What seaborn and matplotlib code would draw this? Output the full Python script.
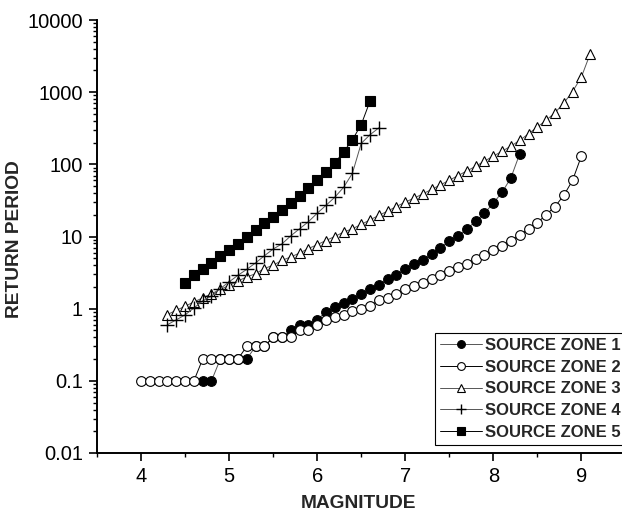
import numpy as np
import pandas as pd
import matplotlib
matplotlib.use("Agg")
import matplotlib.pyplot as plt
import seaborn as sns
from matplotlib.ticker import LogLocator, FixedLocator, NullFormatter

sns.set_style("ticks")
plt.rcParams['font.family'] = ['Liberation Sans', 'DejaVu Sans']

# ---- data (magnitude grid, step 0.1) ----
mag1 = np.round(np.arange(4.7, 8.31, 0.1), 1)
rp1 = [0.1, 0.1, 0.2, 0.2, 0.2, 0.2, 0.3, 0.3, 0.4, 0.4,
       0.5, 0.6, 0.6, 0.7, 0.9, 1.05, 1.2, 1.35, 1.6, 1.85,
       2.15, 2.6, 2.95, 3.6, 4.1, 4.8, 5.8, 7.0, 8.6, 10.2,
       12.8, 16.2, 21, 29, 41, 65, 140]

mag2 = np.round(np.arange(4.0, 9.01, 0.1), 1)
rp2 = [0.1, 0.1, 0.1, 0.1, 0.1, 0.1, 0.1,
       0.2, 0.2, 0.2, 0.2, 0.2,
       0.3, 0.3, 0.3,
       0.4, 0.4, 0.4,
       0.5, 0.5, 0.6, 0.7, 0.77, 0.83, 0.92, 1.0, 1.1, 1.3,
       1.42, 1.6, 1.85, 2.06, 2.27, 2.6, 2.9, 3.3, 3.8, 4.2,
       4.9, 5.6, 6.4, 7.5, 8.8, 10.4, 12.8, 15.5, 20, 26,
       37, 60, 130]

mag3 = np.round(np.arange(4.3, 9.11, 0.1), 1)
rp3 = [0.83, 0.95, 1.08, 1.24, 1.41, 1.61, 1.85, 2.1, 2.42, 2.75,
       3.05, 3.6, 4.0, 4.67, 5.2, 5.9, 6.8, 7.7, 8.8, 10,
       11.5, 12.8, 14.7, 17, 19.6, 22.5, 26, 30, 34, 39,
       45, 52, 60, 70, 81, 94, 111, 130, 152, 179,
       215, 265, 329, 408, 519, 705, 1020, 1620, 3400]

mag4 = np.round(np.arange(4.3, 6.71, 0.1), 1)
rp4 = [0.6, 0.7, 0.82, 1.02, 1.28, 1.5, 1.9, 2.35, 2.9, 3.5,
       4.3, 5.4, 6.7, 7.9, 10.2, 12.8, 16, 21, 27, 35,
       48, 75, 195, 257, 320]

mag5 = np.round(np.arange(4.5, 6.61, 0.1), 1)
rp5 = [2.3, 2.9, 3.6, 4.3, 5.3, 6.6, 7.9, 9.8, 12.2, 15.4,
       18.6, 23, 29, 36, 47, 60, 78, 105, 148, 219,
       355, 750]

labels = ["SOURCE ZONE 1", "SOURCE ZONE 2", "SOURCE ZONE 3",
          "SOURCE ZONE 4", "SOURCE ZONE 5"]
ytick_vals = [0.01, 0.1, 1, 10, 100, 1000, 10000]
ytick_labels = ["0.01", "0.1", "1", "10", "100", "1000", "10000"]
xtick_vals = [4, 5, 6, 7, 8, 9]

fig = plt.figure(figsize=(6.22, 5.14), dpi=100)
ax = fig.add_axes([97/622, 61/514, 524/622, 433/514])

styles = [
    dict(marker='o', mfc='black', mec='black', ms=7.0, mew=0.8, color='#555555'),
    dict(marker='o', mfc='white', mec='black', ms=7.0, mew=0.8, color='black'),
    dict(marker='^', mfc='white', mec='black', ms=7.8, mew=0.8, color='#555555'),
    dict(marker='+', mfc='black', mec='black', ms=9.5, mew=1.0, color='#555555'),
    dict(marker='s', mfc='black', mec='black', ms=6.5, mew=0.8, color='black'),
]
series = [(mag1, rp1), (mag2, rp2), (mag3, rp3), (mag4, rp4), (mag5, rp5)]

for (m, r), lab, st in zip(series, labels, styles):
    df = pd.DataFrame({"Magnitude": m, "Return period": r})
    sns.lineplot(data=df, x="Magnitude", y="Return period", ax=ax,
                 label=lab, linewidth=0.7, sort=False, **st)

ax.set_yscale('log')
ax.set_ylim(0.01, 10000)
ax.set_xlim(3.5, 9.45)

ax.xaxis.set_major_locator(FixedLocator(xtick_vals))
ax.xaxis.set_minor_locator(FixedLocator([3.5, 4.5, 5.5, 6.5, 7.5, 8.5]))
ax.yaxis.set_minor_locator(LogLocator(base=10, subs=np.arange(2, 10), numticks=20))
ax.yaxis.set_minor_formatter(NullFormatter())
ax.set_yticks(ytick_vals)
ax.set_yticklabels(ytick_labels)
ax.set_xticks(xtick_vals)
ax.set_xticklabels([str(v) for v in xtick_vals])

ax.tick_params(axis='both', which='major', direction='out', length=6, width=1.2,
               labelsize=14.5, color='black', labelcolor='black', pad=4)
ax.tick_params(axis='both', which='minor', direction='out', length=3, width=1.0,
               color='black')

for s in ['top', 'right']:
    ax.spines[s].set_visible(False)
for s in ['left', 'bottom']:
    ax.spines[s].set_linewidth(1.4)
    ax.spines[s].set_color('black')

ax.set_xlabel("MAGNITUDE", fontsize=13.8, fontweight='bold')
ax.set_ylabel("RETURN PERIOD", fontsize=13.8, fontweight='bold')
ax.xaxis.set_label_coords(0.5, -(504 - 453) / 433, transform=ax.transAxes)
ax.yaxis.set_label_coords((15 - 97) / 524, (453 - 239.5) / 433, transform=ax.transAxes)
ax.xaxis.label.set_va('center')
ax.yaxis.label.set_va('center')

leg = ax.legend(loc='upper left', bbox_to_anchor=(435/622, 1 - 333/514),
                bbox_transform=fig.transFigure, frameon=True, fancybox=False,
                edgecolor='black', framealpha=1, handlelength=2.5,
                handletextpad=0.2, borderpad=0.3, labelspacing=0.4,
                markerscale=0.8,
                borderaxespad=0, prop={'weight': 'bold', 'size': 12})
leg.get_frame().set_linewidth(0.8)

fig.savefig("out.png", dpi=100)
